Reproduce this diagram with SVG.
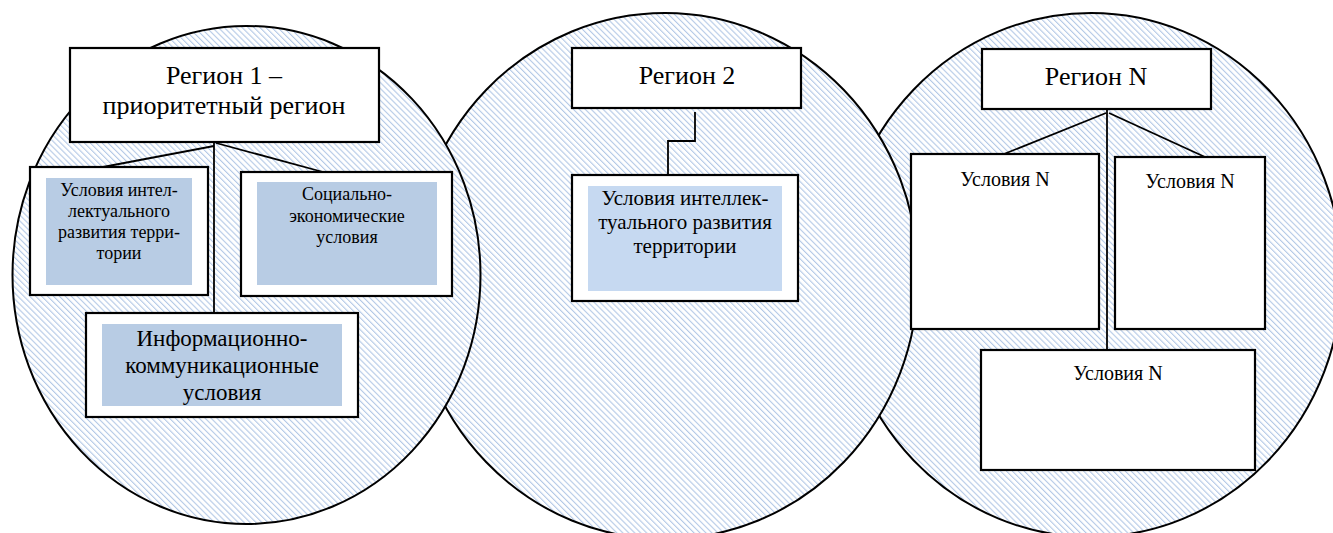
<svg xmlns="http://www.w3.org/2000/svg" width="1333" height="533" viewBox="0 0 1333 533">
<defs>
<pattern id="hatch" patternUnits="userSpaceOnUse" width="4.2" height="4.2" patternTransform="rotate(-45)">
<rect width="4.2" height="4.2" fill="#ffffff"/>
<rect x="0" y="0" width="1.1" height="4.2" fill="#b3c8e6"/>
</pattern>
</defs>
<style>
.reg{fill:url(#hatch);stroke:#000;stroke-width:2}
.box{fill:#fff;stroke:#000;stroke-width:2.2}
.in1{fill:#b8cce4}
.in2{fill:#c6d9f1}
.con{fill:none;stroke:#000;stroke-width:1.8}
.lbl text{fill:#000;text-anchor:middle}
.t26{font-size:26px}
.t23{font-size:23px}
.t21{font-size:21px}
.t20{font-size:20px}
.t18{font-size:18px}
</style>
<g id="regions">
<ellipse id="circleN" class="reg" cx="1091" cy="275" rx="251" ry="262"/>
<ellipse id="circle2" class="reg" cx="665" cy="276" rx="253" ry="263"/>
<ellipse id="circle1" class="reg" cx="246.5" cy="275" rx="234" ry="249"/>
</g>
<g id="connectors">
<line class="con" x1="214" y1="142" x2="214" y2="313"/>
<line class="con" x1="214" y1="146" x2="103" y2="167"/>
<line class="con" x1="216" y1="143" x2="323" y2="172"/>
<polyline class="con" points="695,112 695,141 668,141 668,175"/>
<line class="con" x1="1107" y1="109" x2="1107" y2="350"/>
<line class="con" x1="1106" y1="113" x2="1004" y2="154"/>
<line class="con" x1="1109" y1="113" x2="1205" y2="157"/>
</g>
<g class="lbl" font-family="'Liberation Serif', 'Times New Roman', serif">
<g id="region1">
<rect class="box" x="70" y="48" width="309" height="94"/>
<text class="t26" x="224" y="84">Регион 1 –</text>
<text class="t26" x="224" y="114">приоритетный регион</text>
</g>
<g id="r1-intel">
<rect class="box" x="30" y="167" width="178" height="128"/>
<rect class="in1" x="46" y="178" width="146" height="107"/>
<text class="t18" x="119" y="196">Условия интел-</text>
<text class="t18" x="119" y="217">лектуального</text>
<text class="t18" x="119" y="238">развития терри-</text>
<text class="t18" x="119" y="259">тории</text>
</g>
<g id="r1-social">
<rect class="box" x="241" y="172" width="211" height="124"/>
<rect class="in1" x="257" y="182" width="180" height="103"/>
<text class="t18" x="347" y="200">Социально-</text>
<text class="t18" x="347" y="222">экономические</text>
<text class="t18" x="347" y="243">условия</text>
</g>
<g id="r1-info">
<rect class="box" x="86" y="313" width="272" height="104"/>
<rect class="in1" x="102" y="324" width="240" height="82"/>
<text class="t23" x="222" y="346">Информационно-</text>
<text class="t23" x="222" y="373">коммуникационные</text>
<text class="t23" x="222" y="400">условия</text>
</g>
<g id="region2">
<rect class="box" x="572" y="48" width="229" height="60"/>
<text class="t26" x="687" y="84">Регион 2</text>
</g>
<g id="r2-intel">
<rect class="box" x="572" y="175" width="226" height="126"/>
<rect class="in2" x="588" y="186" width="194" height="105"/>
<text class="t21" x="685" y="205">Условия интеллек-</text>
<text class="t21" x="685" y="229">туального развития</text>
<text class="t21" x="685" y="253">территории</text>
</g>
<g id="regionN">
<rect class="box" x="982" y="49" width="229" height="60"/>
<text class="t26" x="1096" y="85">Регион N</text>
</g>
<g id="rN-left">
<rect class="box" x="911" y="154" width="188" height="175"/>
<text class="t20" x="1005" y="186">Условия N</text>
</g>
<g id="rN-right">
<rect class="box" x="1115" y="157" width="150" height="172"/>
<text class="t20" x="1190" y="188">Условия N</text>
</g>
<g id="rN-bottom">
<rect class="box" x="981" y="350" width="274" height="120"/>
<text class="t20" x="1118" y="380">Условия N</text>
</g>
</g>
</svg>
